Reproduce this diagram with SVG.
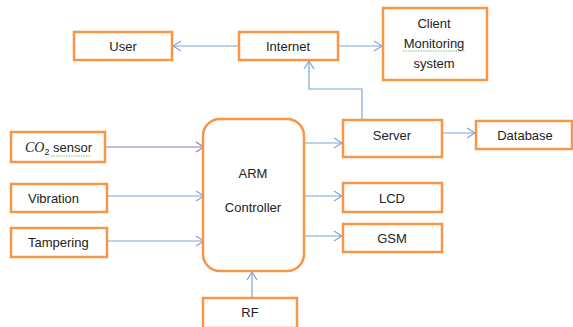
<svg xmlns="http://www.w3.org/2000/svg" width="573" height="327" viewBox="0 0 573 327">
<defs>
<marker id="ah" markerWidth="10" markerHeight="12" refX="9" refY="6" orient="auto" markerUnits="userSpaceOnUse">
<path d="M1,1 L9,6 L1,11" fill="none" stroke="#7EA3D6" stroke-width="1.2"/>
</marker>
<marker id="ahp" markerWidth="10" markerHeight="12" refX="9" refY="6" orient="auto" markerUnits="userSpaceOnUse">
<path d="M1,1 L9,6 L1,11" fill="none" stroke="#8E7BB0" stroke-width="1.2"/>
</marker>
<style>
.box{fill:#fff;stroke:#F79646;stroke-width:2.5}
.t{font-family:"Liberation Sans",Arial,sans-serif;font-size:13px;fill:#222}
.c{text-anchor:middle}
.ln{fill:none;stroke:#7EA3D6;stroke-width:1.2;marker-end:url(#ah)}
.sq{fill:none;stroke:#5BB85B;stroke-width:0.8;stroke-dasharray:1.5 1}
</style>
</defs>
<rect width="573" height="327" fill="#fff"/>
<g id="connectors">
<line class="ln" x1="239" y1="46" x2="173" y2="46"/>
<line class="ln" x1="338" y1="46" x2="382" y2="46"/>
<polyline class="ln" points="362,120 362,89 309,89 309,61"/>
<line x1="106" y1="147" x2="204" y2="147" fill="none" stroke="#8E7BB0" stroke-width="1.2" marker-end="url(#ahp)"/>
<line class="ln" x1="107" y1="196" x2="204" y2="196"/>
<line class="ln" x1="107" y1="241" x2="204" y2="241"/>
<line class="ln" x1="304" y1="143" x2="342" y2="143"/>
<line class="ln" x1="304" y1="196" x2="342" y2="196"/>
<line class="ln" x1="304" y1="236" x2="342" y2="236"/>
<line class="ln" x1="442" y1="133" x2="475" y2="133"/>
<line class="ln" x1="252" y1="298" x2="252" y2="272"/>
</g>
<g id="user"><rect class="box" x="74" y="32" width="98" height="28"/><text class="t c" x="123" y="51">User</text></g>
<g id="internet"><rect class="box" x="239" y="32" width="99" height="28"/><text class="t c" x="288" y="51">Internet</text></g>
<g id="client"><rect class="box" x="383" y="8" width="104" height="72"/>
<text class="t c" x="434" y="28">Client</text>
<text class="t c" x="434" y="48">Monitoring</text>
<path class="sq" d="M403,51 L465,51"/>
<text class="t c" x="434" y="68">system</text></g>
<g id="co2"><rect class="box" x="11" y="132" width="94" height="30"/>
<text class="t" x="25" y="152"><tspan font-style="italic" font-family="Liberation Serif, serif" font-size="14">CO</tspan><tspan font-size="9" dy="3">2</tspan><tspan dy="-3"> sensor</tspan></text>
<path class="sq" d="M51,156 L91,156"/></g>
<g id="vibration"><rect class="box" x="11" y="184" width="96" height="28"/><text class="t" x="28" y="203">Vibration</text></g>
<g id="tampering"><rect class="box" x="11" y="228" width="96" height="29"/><text class="t" x="28" y="247">Tampering</text></g>
<g id="arm"><rect class="box" x="203" y="119" width="101" height="152" rx="17"/>
<text class="t c" x="253" y="178">ARM</text>
<text class="t c" x="253" y="212">Controller</text></g>
<g id="server"><rect class="box" x="343" y="120" width="99" height="37"/><text class="t c" x="392" y="140">Server</text></g>
<g id="database"><rect class="box" x="476" y="121" width="96" height="28"/><text class="t c" x="525" y="140">Database</text></g>
<g id="lcd"><rect class="box" x="343" y="183" width="99" height="29"/><text class="t c" x="392" y="203">LCD</text></g>
<g id="gsm"><rect class="box" x="343" y="224" width="99" height="28"/><text class="t c" x="392" y="243">GSM</text></g>
<g id="rf"><rect class="box" x="203" y="298" width="94" height="30"/><text class="t c" x="250" y="317">RF</text></g>
</svg>
